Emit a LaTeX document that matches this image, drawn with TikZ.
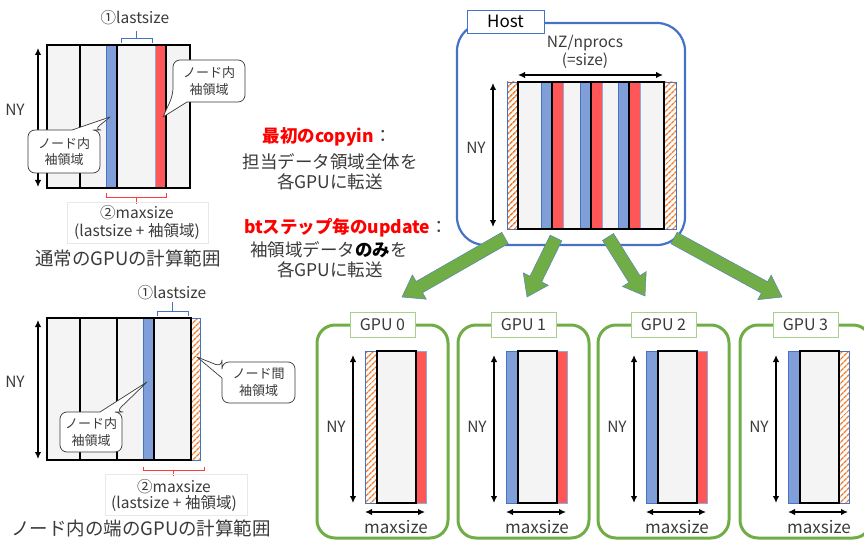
\documentclass[tikz,border=0pt]{standalone}
\usepackage{fontspec}
\setmainfont{Noto Sans CJK JP}
\usetikzlibrary{arrows.meta,calc,patterns.meta}
\definecolor{cwhite}{HTML}{F4F4F4}
\definecolor{cblue}{HTML}{809FD8}
\definecolor{cbluedk}{HTML}{4472C4}
\definecolor{cred}{HTML}{FF5757}
\definecolor{corange}{HTML}{ED7D31}
\definecolor{cgreen}{HTML}{70AD47}
\definecolor{cgreenlt}{HTML}{A9D18E}
\definecolor{ctext}{HTML}{3A3A3A}
\definecolor{cfaint}{HTML}{E8E8E8}
\definecolor{cedge}{HTML}{5A82B8}
\definecolor{bred}{HTML}{FF3B3B}
\tikzset{
 cell/.style={fill=cwhite},
 bstrip/.style={fill=cblue, draw=cbluedk, line width=0.4pt},
 rstrip/.style={fill=cred, draw=cbluedk!60, line width=0.3pt},
 hstrip/.style={pattern={Lines[angle=45,distance=4pt,line width=1.6pt]}, pattern color=corange, draw=cbluedk, line width=0.5pt},
 frame/.style={draw=black, line width=1.7pt},
 sepline/.style={draw=black, line width=1.3pt},
 dimarrow/.style={{Latex[length=7pt,width=6.5pt]}-{Latex[length=7pt,width=6.5pt]}, line width=1.5pt},
 lbl/.style={text=ctext, font=\fontsize{15.5}{17}\selectfont, inner sep=0pt},
 nylbl/.style={text=ctext, font=\fontsize{15.5}{17}\selectfont, inner sep=0pt},
 caption/.style={text=ctext, font=\fontsize{18.5}{20}\selectfont, inner sep=0pt},
 midtxt/.style={text=ctext, font=\fontsize{17.5}{20}\selectfont, inner sep=0pt},
 calltxt/.style={text=ctext, font=\fontsize{13}{16.5}\selectfont, align=center, inner sep=0pt},
 callbox/.style={fill=white, draw=ctext, line width=0.7pt, line join=round},
 faintbox/.style={draw=cfaint, line width=0.6pt},
 bluebr/.style={draw=cbluedk, line width=1pt},
 redbr/.style={draw=bred, line width=1pt},
 hostbox/.style={draw=cbluedk, line width=2.2pt, rounded corners=28pt},
 gpubox/.style={draw=cgreen, line width=3pt, rounded corners=18pt},
 tagbox/.style={fill=white, line width=0.8pt},
 greenarr/.style={fill=cgreen, draw=cedge, line width=0.5pt, line join=miter},
}
\newcommand\garrow[2]{%
  \coordinate (#1b) at ($(#2)!20pt!(#1)$);
  \path[greenarr] ($(#1)!6.5pt!90:(#2)$) -- ($(#1b)!6.5pt!90:(#2)$) -- ($(#1b)!14pt!90:(#2)$) -- (#2)
     -- ($(#1b)!14pt!-90:(#2)$) -- ($(#1b)!6.5pt!-90:(#2)$) -- ($(#1)!6.5pt!-90:(#2)$) -- cycle;
}
\newcommand\gpupanel[4]{% x0, name, label, kind (0 left hatch, 1 middle, 2 right hatch)
  \draw[gpubox] (#1,325) rectangle ++(131,213);
  \node[tagbox, draw=cgreenlt, minimum width=65pt, minimum height=25pt, inner sep=0pt,
        font=\fontsize{16}{18}\selectfont, text=ctext] (#2tag) at (#1+65.5,324.5) {#3};
  \ifcase#4
    \path[hstrip] (#1+48,351) rectangle (#1+60,503);
    \path[rstrip] (#1+99,351) rectangle (#1+109,503);
  \or
    \path[bstrip] (#1+48,351) rectangle (#1+60,503);
    \path[rstrip] (#1+99,351) rectangle (#1+109,503);
  \or
    \path[bstrip] (#1+48,351) rectangle (#1+60,503);
    \path[hstrip] (#1+99,351) rectangle (#1+109,503);
  \fi
  \path[cell, frame] (#1+60,351) rectangle (#1+99,503);
  \coordinate (#2nyt) at (#1+36,355);
  \coordinate (#2nyb) at (#1+36,503);
  \draw[dimarrow] (#2nyt) -- (#2nyb);
  \node[nylbl] (#2ny) at (#1+19,427) {NY};
  \coordinate (#2ml) at (#1+48,512);
  \coordinate (#2mr) at (#1+108,512);
  \draw[dimarrow] (#2ml) -- (#2mr);
  \node[lbl, font=\fontsize{17}{19}\selectfont] (#2max) at (#1+79,527) {maxsize};
}
\begin{document}
\begin{tikzpicture}[x=1pt,y=-1pt]
\useasboundingbox (0,0) rectangle (864,540);

% ===== top-left: normal GPU =====
\path[cell] (47,45) rectangle (190,188);
\path[bstrip] (106,45) rectangle (117,188);
\path[rstrip] (155,45) rectangle (166,188);
\draw[sepline] (80,45) -- (80,188);
\draw[sepline] (117,45) -- (117,188);
\draw[sepline] (166,45) -- (166,188);
\draw[frame] (47,45) rectangle (190,188);
\coordinate (ny1t) at (38,48);
\coordinate (ny1b) at (38,187);
\draw[dimarrow] (ny1t) -- (ny1b);
\node[nylbl] (ny1) at (15,110) {NY};
\draw[bluebr] (121,43) -- (121,39) -- (152,39) -- (152,43);
\draw[bluebr] (136.5,39) -- (136.5,31);
\node[lbl] (last1) at (135,18) {①lastsize};
\draw[redbr] (106,193) -- (106,197.5) -- (166,197.5) -- (166,193);
\draw[redbr] (136,197.5) -- (136,204);
\draw[faintbox] (67,202) rectangle (208,243);
\node[lbl] (max1) at (137,213) {②maxsize};
\node[lbl] (max1b) at (137,232) {(lastsize + 袖領域)};
\node[caption] (cap1) at (128,258) {通常のGPUの計算範囲};
% callouts
\draw[callbox] (50,130) [rounded corners=7pt] -- (28,130) -- (28,173) -- (100,173) -- (100,130) -- (94,130) [sharp corners] -- (110,117) -- (72,130) -- cycle;
\node[calltxt] (co1) at (64,151.5) {ノード内\\袖領域};
\draw[callbox] (215,102) [rounded corners=7pt] -- (245,102) -- (245,60) -- (173,60) -- (173,95) [sharp corners] -- (163,117) -- (187,102) -- cycle;
\node[calltxt] (co2) at (209,81) {ノード内\\袖領域};

% ===== bottom-left: edge GPU =====
\path[cell] (47,318) rectangle (191,460);
\path[bstrip] (143,318) rectangle (154,460);
\path[hstrip] (191,318) rectangle (200,460);
\draw[sepline] (80,318) -- (80,460);
\draw[sepline] (117,318) -- (117,460);
\draw[sepline] (154,318) -- (154,460);
\draw[frame] (47,318) rectangle (191,460);
\coordinate (ny2t) at (38,320);
\coordinate (ny2b) at (38,459);
\draw[dimarrow] (ny2t) -- (ny2b);
\node[nylbl] (ny2) at (15,382) {NY};
\draw[bluebr] (157,315.5) -- (157,311.5) -- (188,311.5) -- (188,315.5);
\draw[bluebr] (172.5,311.5) -- (172.5,302);
\node[lbl] (last2) at (172,293) {①lastsize};
\draw[redbr] (143,466.5) -- (143,470.5) -- (204,470.5) -- (204,466.5);
\draw[redbr] (173.5,470.5) -- (173.5,476);
\draw[faintbox] (105,474) rectangle (247,515);
\node[lbl] (max2) at (174,487) {②maxsize};
\node[lbl] (max2b) at (174,504) {(lastsize + 袖領域)};
\node[caption] (cap2) at (141,528) {ノード内の端のGPUの計算範囲};
\draw[callbox] (260,403) [rounded corners=7pt] -- (295,403) -- (295,362) -- (222,362) -- (222,367) [sharp corners] -- (197,357) -- (222,378) [rounded corners=7pt] -- (222,403) -- cycle;
\node[calltxt] (co3) at (258.5,382.5) {ノード間\\袖領域};
\draw[callbox] (80,412) [rounded corners=7pt] -- (60,412) -- (60,452) -- (122,452) -- (122,412) -- (116,412) [sharp corners] -- (147,382) -- (100,412) -- cycle;
\node[calltxt] (co4) at (91,432) {ノード内\\袖領域};

% ===== middle text =====
\node[midtxt] (t1) at (327,137) {\textcolor{red}{\bfseries 最初のcopyin}：};
\node[midtxt] (t2) at (330,162) {担当データ領域全体を};
\node[midtxt] (t3) at (330,182) {各GPUに転送};
\node[midtxt] (t4) at (346,228) {\textcolor{red}{\bfseries btステップ毎のupdate}：};
\node[midtxt] (t5) at (329,250) {袖領域データ{\bfseries\color{black}のみ}を};
\node[midtxt] (t6) at (330,270) {各GPUに転送};

% ===== Host =====
\draw[hostbox] (457,23) rectangle (685,245);
\node[tagbox, draw=cbluedk, minimum width=77pt, minimum height=23pt, inner sep=0pt,
      font=\fontsize{17}{19}\selectfont] (hosttag) at (505.5,21.5) {Host};
\node[lbl] (nz) at (585,43) {NZ/nprocs};
\node[lbl] (sz) at (585,61) {(=size)};
\coordinate (nzl) at (518,75);
\coordinate (nzr) at (663,75);
\draw[dimarrow] (nzl) -- (nzr);
\coordinate (ny3t) at (493,83);
\coordinate (ny3b) at (493,227);
\draw[dimarrow] (ny3t) -- (ny3b);
\node[nylbl] (ny3) at (476,148) {NY};
\path[hstrip] (507,82) rectangle (518,229);
\path[hstrip] (664,82) rectangle (676,229);
\path[cell] (518,82) rectangle (664,229);
\path[bstrip] (541,82) rectangle (552,229);
\path[bstrip] (580,82) rectangle (591,229);
\path[bstrip] (618,82) rectangle (629,229);
\path[rstrip] (552,82) rectangle (563,229);
\path[rstrip] (591,82) rectangle (602,229);
\path[rstrip] (629,82) rectangle (640,229);
\draw[sepline] (552,82) -- (552,229);
\draw[sepline] (591,82) -- (591,229);
\draw[sepline] (629,82) -- (629,229);
\draw[frame] (518,82) rectangle (664,229);

% ===== GPU panels =====
\begin{scope}
\clip (0,0) rectangle (864,540);
\gpupanel{317}{g0}{GPU 0}{0}
\gpupanel{458}{g1}{GPU 1}{1}
\gpupanel{598}{g2}{GPU 2}{1}
\gpupanel{740}{g3}{GPU 3}{2}
\end{scope}

% ===== green arrows =====
\coordinate (a1) at (505,238); \coordinate (h1) at (402,297);
\coordinate (a2) at (556,238); \coordinate (h2) at (527,297);
\coordinate (a3) at (608,237); \coordinate (h3) at (645,296);
\coordinate (a4) at (674,238); \coordinate (h4) at (782,297);
\garrow{a1}{h1}
\garrow{a2}{h2}
\garrow{a3}{h3}
\garrow{a4}{h4}
\end{tikzpicture}
\end{document}
